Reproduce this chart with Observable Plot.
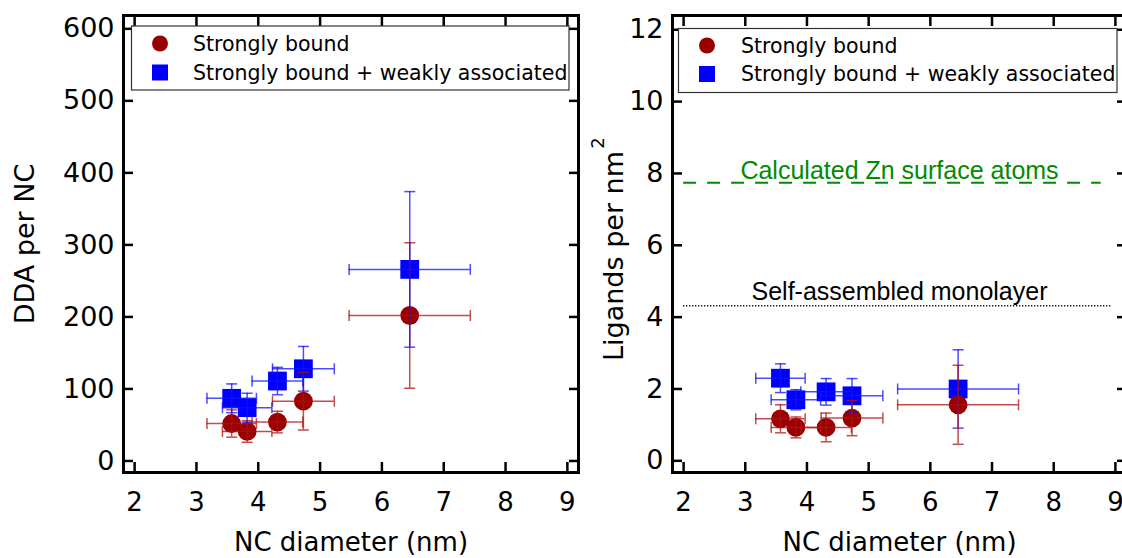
<!DOCTYPE html>
<html><head><meta charset="utf-8">
<script src="https://cdn.jsdelivr.net/npm/d3@7"></script>
<script src="https://cdn.jsdelivr.net/npm/@observablehq/plot@0.6"></script>
<style>
html,body{margin:0;padding:0;background:#fff;overflow:hidden;}
#wrap{position:relative;width:1122px;height:558px;overflow:hidden;background:#fff;font-family:"DejaVu Sans",sans-serif;}
.panel{position:absolute;top:0;width:600px;height:558px;}
.panel svg{max-width:none !important;}
#overlay{position:absolute;left:0;top:0;pointer-events:none;}
</style></head>
<body><div id="wrap"><div id="left" class="panel" style="left:0"></div><div id="right" class="panel" style="left:540px"></div></div>
<script>
// ---- data ----
const diameter      = [3.57, 3.82, 4.31, 4.73, 6.45];
const diameterErr   = [0.40, 0.40, 0.41, 0.50, 0.98];
const ddaStrong     = [52, 41, 54, 83, 202];
const ddaStrongErr  = [19, 15, 15, 40, 101];
const ddaTotal      = [87, 74, 111, 128, 266];
const ddaTotalErr   = [20, 20, 19, 31, 108];
const ligStrong     = [1.17, 0.93, 0.93, 1.19, 1.56];
const ligStrongErr  = [0.39, 0.29, 0.40, 0.49, 1.10];
const ligTotal      = [2.30, 1.70, 1.92, 1.81, 2.00];
const ligTotalErr   = [0.40, 0.28, 0.37, 0.48, 1.09];
const seriesNames   = ["Strongly bound", "Strongly bound + weakly associated"];
const xTicks        = [2, 3, 4, 5, 6, 7, 8, 9];
const ddaTicks      = [0, 100, 200, 300, 400, 500, 600];
const ligandTicks   = [0, 2, 4, 6, 8, 10, 12];
const refLabels     = ["Calculated Zn surface atoms", "Self-assembled monolayer"];
const refValues     = [7.74, 4.32];
const refStart      = [2.0, 2.0];
const refEnd        = [8.77, 8.93];
const refLabelX     = [5.5, 5.5];

// ---- helpers ----
const RED = "#990000", BLUE = "#0000ff";
const capV = {draw(ctx){ctx.moveTo(0,-5.5);ctx.lineTo(0,5.5);}};
const capH = {draw(ctx){ctx.moveTo(-5.5,0);ctx.lineTo(5.5,0);}};
const rows = (ys, es, series) => diameter.map((x, i) => ({x, xe: diameterErr[i], y: ys[i], ye: es[i], series}));

function errMarks(data, color) {
  const o = {stroke: color, strokeWidth: 1.5, strokeOpacity: 0.75};
  return [
    Plot.ruleY(data, {y: "y", x1: d => d.x - d.xe, x2: d => d.x + d.xe, ...o}),
    Plot.ruleX(data, {x: "x", y1: d => d.y - d.ye, y2: d => d.y + d.ye, ...o}),
    Plot.dot(data, {x: d => d.x - d.xe, y: "y", symbol: capV, fill: "none", ...o}),
    Plot.dot(data, {x: d => d.x + d.xe, y: "y", symbol: capV, fill: "none", ...o}),
    Plot.dot(data, {x: "x", y: d => d.y - d.ye, symbol: capH, fill: "none", ...o}),
    Plot.dot(data, {x: "x", y: d => d.y + d.ye, symbol: capH, fill: "none", ...o})
  ];
}
function axesMarks(yTicks) {
  const tk = {strokeWidth: 2.5, fill: "none", label: null, tickSize: 10};
  return [
    Plot.axisX({ticks: xTicks, anchor: "bottom", tickSize: 0, tickPadding: 20, fontSize: 26, label: null}),
    Plot.axisY({ticks: yTicks, anchor: "left", tickSize: 0, tickPadding: 9, fontSize: 27, label: null}),
    Plot.axisX({ticks: xTicks, anchor: "bottom", dy: -10, ...tk}),
    Plot.axisX({ticks: xTicks, anchor: "top", dy: 10, ...tk}),
    Plot.axisY({ticks: yTicks, anchor: "left", dx: 10, ...tk}),
    Plot.axisY({ticks: yTicks, anchor: "right", dx: -10, ...tk}),
    Plot.frame({strokeWidth: 3})
  ];
}
const titleOpts = {text: d => d, textAnchor: "middle", lineAnchor: "middle"};
const common = {
  width: 600, height: 558, marginTop: 15, marginBottom: 86,
  x: {domain: [1.82, 9.18]},
  style: {fontFamily: "DejaVu Sans, sans-serif", fontSize: "26px", color: "black", background: "transparent", maxWidth: "none", overflow: "visible"}
};

// ---- left panel ----
const lStrong = rows(ddaStrong, ddaStrongErr, seriesNames[0]);
const lTotal  = rows(ddaTotal, ddaTotalErr, seriesNames[1]);
const left = Plot.plot({
  ...common, marginLeft: 123, marginRight: 22,
  y: {domain: [-16, 618.5]},
  marks: [
    Plot.dot(lStrong, {x: "x", y: "y", r: 9.4, fill: RED}),
    Plot.dot(lTotal, {x: "x", y: "y", r: 10.6, symbol: "square", fill: BLUE}),
    ...errMarks(lStrong, "#b01010"),
    ...errMarks(lTotal, "#1010ff"),
    ...axesMarks(ddaTicks),
    Plot.text(["DDA per NC"], {...titleOpts, frameAnchor: "left", dx: -98, rotate: -90, fontSize: 27}),
    Plot.text(["NC diameter (nm)"], {...titleOpts, frameAnchor: "bottom", dy: 70, fontSize: 26})
  ]
});
document.getElementById("left").append(left);

// ---- right panel ----
const rStrong = rows(ligStrong, ligStrongErr, seriesNames[0]);
const rTotal  = rows(ligTotal, ligTotalErr, seriesNames[1]);
const refs = refLabels.map((label, i) => ({label, y: refValues[i], x1: refStart[i], x2: refEnd[i], lx: refLabelX[i]}));
const right = Plot.plot({
  ...common, marginLeft: 132, marginRight: 14,
  y: {domain: [-0.325, 12.397]},
  marks: [
    Plot.ruleY([refs[0]], {y: "y", x1: "x1", x2: "x2", stroke: "#008c00", strokeWidth: 2, strokeDasharray: "13,11"}),
    Plot.text([refs[0]], {x: "lx", y: "y", text: "label", dy: -12, fill: "#008c00", fontSize: 25, fontFamily: "Liberation Sans, Arial, sans-serif"}),
    Plot.ruleY([refs[1]], {y: "y", x1: "x1", x2: "x2", stroke: "black", strokeWidth: 1.5, strokeDasharray: "1.2,1.8"}),
    Plot.text([refs[1]], {x: "lx", y: "y", text: "label", dy: -14, fill: "black", fontSize: 25, fontFamily: "Liberation Sans, Arial, sans-serif"}),
    Plot.dot(rTotal, {x: "x", y: "y", r: 10.6, symbol: "square", fill: BLUE}),
    Plot.dot(rStrong, {x: "x", y: "y", r: 9.4, fill: RED}),
    ...errMarks(rTotal, "#1010ff"),
    ...errMarks(rStrong, "#b01010"),
    ...axesMarks(ligandTicks),
    Plot.text(["Ligands per nm"], {...titleOpts, frameAnchor: "left", dx: -58, dy: 12, rotate: -90, fontSize: 27}),
    Plot.text(["2"], {...titleOpts, frameAnchor: "left", dx: -74, dy: -101, rotate: -90, fontSize: 18}),
    Plot.text(["NC diameter (nm)"], {...titleOpts, frameAnchor: "bottom", dy: 70, fontSize: 26})
  ]
});
document.getElementById("right").append(right);

// ---- legends ----
const svg = d3.select("#wrap").append("svg").attr("id", "overlay").attr("width", 1122).attr("height", 558);
function legend(x, y, w, h, cx, cy1, cy2, tx) {
  const g = svg.append("g");
  g.append("rect").attr("x", x).attr("y", y).attr("width", w).attr("height", h)
    .attr("fill", "white").attr("stroke", "#333").attr("stroke-width", 1.2);
  g.append("circle").attr("cx", cx).attr("cy", cy1).attr("r", 8).attr("fill", RED);
  g.append("rect").attr("x", cx - 8).attr("y", cy2 - 8).attr("width", 16).attr("height", 16).attr("fill", BLUE);
  [cy1, cy2].forEach((cy, i) => g.append("text").attr("x", tx).attr("y", cy).attr("dy", "0.35em")
    .attr("font-family", "DejaVu Sans, sans-serif").attr("font-size", 20.5).attr("fill", "black").text(seriesNames[i]));
}
legend(131.5, 26, 437.5, 64, 160, 43.5, 72.5, 193);
legend(678.5, 28.5, 438.5, 64, 707, 45.5, 74, 741);
</script>
</body></html>
